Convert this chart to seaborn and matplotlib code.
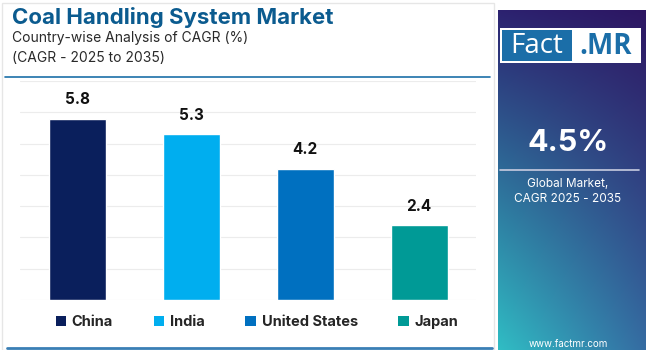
import matplotlib
matplotlib.use("Agg")
import matplotlib.pyplot as plt
from matplotlib.patches import Patch, Rectangle
from matplotlib.lines import Line2D
import numpy as np
import pandas as pd
import seaborn as sns

# ---- data ----
countries = ["China", "India", "United States", "Japan"]
cagr = [5.8, 5.3, 4.2, 2.4]
bar_colors = ["#0a1f5c", "#00aeef", "#0070c0", "#009a96"]
global_cagr = "4.5%"

df = pd.DataFrame({"Country": countries, "CAGR": cagr})

sns.set_theme(style="white")
plt.rcParams["font.family"] = ["Inter", "DejaVu Sans"]

fig = plt.figure(figsize=(6.5, 3.5), dpi=100)
fig.patch.set_facecolor("white")

W, H = 650.0, 350.0

# light frame around the left panel
fig.add_artist(Rectangle((2 / W, 0), 492 / W, 347 / H, transform=fig.transFigure,
                         fill=False, edgecolor="#e6e6e6", lw=1.0))

# ---- titles ----
fig.text(12 / W, 1 - 18 / H, "Coal Handling System Market", fontsize=16,
         fontweight="bold", color="#0b5b8f", va="center", ha="left")
fig.text(12 / W, 1 - 38 / H, "Country-wise Analysis of CAGR (%)", fontsize=10,
         color="#2a2a2a", va="center", ha="left")
fig.text(12 / W, 1 - 58 / H, "(CAGR - 2025 to 2035)", fontsize=10,
         color="#2a2a2a", va="center", ha="left")
fig.add_artist(Line2D([5 / W, 490 / W], [1 - 77 / H, 1 - 77 / H],
                      transform=fig.transFigure, color="#1b6fa8", lw=1.2))
fig.add_artist(Line2D([7 / W, 492 / W], [1 - 348 / H, 1 - 348 / H],
                      transform=fig.transFigure, color="#3a7fb5", lw=2.0))

# ---- bar chart ----
ax = fig.add_axes([20 / W, 50 / H, 456 / W, 219 / H])
sns.barplot(data=df, x="Country", y="CAGR", hue="Country", palette=bar_colors,
            width=0.5, legend=False, ax=ax, saturation=1)
ax.set_ylim(0, 7)
ax.set_xlim(-0.5, 3.5)
ax.set_yticks(range(0, 8))
ax.yaxis.grid(True, color="#ececec", lw=0.8)
ax.set_axisbelow(True)
ax.set_xlabel("")
ax.set_ylabel("")
ax.set_xticklabels([])
ax.set_yticklabels([])
ax.tick_params(length=0)
for s in ax.spines.values():
    s.set_visible(False)
ax.patch.set_alpha(0)
for c in ax.containers:
    ax.bar_label(c, fmt="%.1f", padding=8, fontsize=11, fontweight="bold",
                 color="#111111")

# ---- legend ----
handles = [Patch(facecolor=col, edgecolor="none") for col in bar_colors]
fig.legend(handles, countries, loc="center", bbox_to_anchor=(257 / W, 1 - 322 / H),
           ncol=4, frameon=False, handlelength=0.7, handleheight=0.7,
           handletextpad=0.4, columnspacing=2.8,
           prop={"weight": "bold", "size": 10.5})

# ---- right panel with gradient ----
pax = fig.add_axes([498 / W, 0, 148 / W, 340 / H])
tl = np.array([0x2c, 0x22, 0x70]) / 255
tr = np.array([0x2d, 0x16, 0x62]) / 255
bl = np.array([0x30, 0xbd, 0xc4]) / 255
br = np.array([0x35, 0x6c, 0xa2]) / 255
ny, nx = 200, 100
yy, xx = np.mgrid[0:1:ny * 1j, 0:1:nx * 1j]
grad = ((1 - yy)[..., None] * ((1 - xx)[..., None] * tl + xx[..., None] * tr)
        + yy[..., None] * ((1 - xx)[..., None] * bl + xx[..., None] * br))
pax.imshow(grad, aspect="auto", extent=(0, 1, 0, 1), origin="upper")
pax.set_xlim(0, 1)
pax.set_ylim(0, 1)
pax.axis("off")

def px(x, y):
    return (x - 498) / 148, 1 - y / 340

# logo
x0, y0 = px(500, 53)
x1, y1 = px(641, 18)
pax.add_patch(Rectangle((x0, y0), x1 - x0, y1 - y0, facecolor="white", edgecolor="none"))
xa, ya = px(502, 51)
xb, yb = px(572, 20)
pax.add_patch(Rectangle((xa, ya), xb - xa, yb - ya, facecolor="#1b6ea8", edgecolor="none"))
pax.text(*px(537, 36), "Fact", color="white", fontsize=20, ha="center", va="center",
         family="Open Sans")
pax.text(*px(606, 36), ".MR", color="#1b6ea8", fontsize=20, ha="center", va="center",
         fontweight="bold", family="Open Sans")

pax.text(*px(568, 133), global_cagr, color="white", fontsize=22, fontweight="bold",
         ha="center", va="center")
lx0, ly = px(500, 160)
lx1, _ = px(639, 160)
pax.plot([lx0, lx1], [ly, ly], color="#c8cce0", lw=1.2)
pax.text(*px(568, 174), "Global Market,", color="white", fontsize=8.5,
         ha="center", va="center")
pax.text(*px(568, 189), "CAGR 2025 - 2035", color="white", fontsize=8.5,
         ha="center", va="center")
pax.text(*px(568, 334), "www.factmr.com", color="white", fontsize=7,
         ha="center", va="center")

fig.savefig("out.png", dpi=100)
